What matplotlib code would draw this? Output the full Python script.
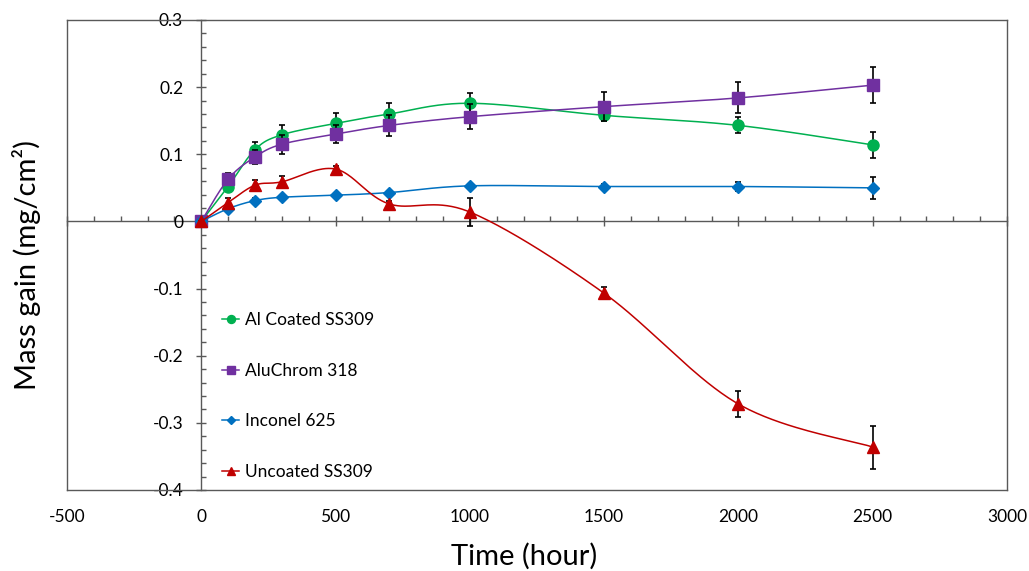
import numpy as np
import matplotlib
matplotlib.use("Agg")
import matplotlib.pyplot as plt
from matplotlib.lines import Line2D
from matplotlib.ticker import MultipleLocator, NullFormatter

plt.rcParams['font.family'] = ['Lato', 'DejaVu Sans']

# ---- data ----
time_h = [0, 100, 200, 300, 500, 700, 1000, 1500, 2000, 2500]
al_coated = [0, 0.052, 0.107, 0.129, 0.146, 0.160, 0.176, 0.158, 0.143, 0.114]
al_coated_err = [0, 0.005, 0.012, 0.014, 0.015, 0.016, 0.016, 0.008, 0.012, 0.019]
aluchrom = [0, 0.063, 0.096, 0.115, 0.130, 0.143, 0.156, 0.171, 0.184, 0.203]
aluchrom_err = [0, 0.009, 0.011, 0.014, 0.013, 0.016, 0.019, 0.022, 0.023, 0.027]
inconel = [0, 0.019, 0.031, 0.036, 0.039, 0.043, 0.053, 0.052, 0.052, 0.050]
inconel_err = [0, 0.003, 0.004, 0.004, 0.003, 0.003, 0.003, 0.003, 0.007, 0.016]
uncoated = [0, 0.028, 0.054, 0.059, 0.078, 0.026, 0.014, -0.107, -0.272, -0.336]
uncoated_err = [0, 0.007, 0.007, 0.008, 0.004, 0.004, 0.021, 0.009, 0.019, 0.032]

series_names = ["Al Coated SS309", "AluChrom 318", "Inconel 625", "Uncoated SS309"]
x_ticks = [-500, 0, 500, 1000, 1500, 2000, 2500, 3000]
y_ticks = [-0.4, -0.3, -0.2, -0.1, 0, 0.1, 0.2, 0.3]
y_tick_labels = ['-0.4', '-0.3', '-0.2', '-0.1', '0', '0.1', '0.2', '0.3']


def smooth(x, y, n=40):
    """Excel-like smoothed line: Catmull-Rom cubic Bezier through the points."""
    P = np.column_stack([x, y]).astype(float)
    out = [P[0]]
    t = np.linspace(0, 1, n)[1:, None]
    for i in range(len(P) - 1):
        p0 = P[i - 1] if i > 0 else P[i]
        p1, p2 = P[i], P[i + 1]
        p3 = P[i + 2] if i + 2 < len(P) else P[i + 1]
        b1 = p1 + (p2 - p0) / 6.0
        b2 = p2 - (p3 - p1) / 6.0
        seg = (1 - t) ** 3 * p1 + 3 * (1 - t) ** 2 * t * b1 + 3 * (1 - t) * t ** 2 * b2 + t ** 3 * p2
        out.extend(seg)
    out = np.array(out)
    return out[:, 0], out[:, 1]


fig = plt.figure(figsize=(10.29, 5.71), dpi=100)
ax = fig.add_axes([67 / 1029, 81 / 571, 940 / 1029, 470 / 571])

styles = [
    (al_coated, al_coated_err, '#00B050', 'o', 8.0),
    (aluchrom, aluchrom_err, '#7030A0', 's', 8.3),
    (inconel, inconel_err, '#0070C0', 'D', 6.2),
    (uncoated, uncoated_err, '#C00000', '^', 8.5),
]

handles = []
for k, (vals, errs, col, mk, ms) in enumerate(styles):
    sx, sy = smooth(time_h, vals)
    ax.plot(sx, sy, color=col, lw=1.1, zorder=2 + k * 0.1)
    ax.errorbar(time_h, vals, yerr=errs, fmt='none', ecolor='black',
                elinewidth=1.2, capsize=2.2, capthick=1.2, zorder=2.05 + k * 0.1)
    ax.plot(time_h, vals, linestyle='none', marker=mk, ms=ms, color=col,
            mec=col, zorder=2.08 + k * 0.1)
    handles.append(Line2D([], [], color=col, lw=1.1, marker=mk, ms=ms * 0.72,
                          mec=col))

ax.set_xlim(-500, 3000)
ax.set_ylim(-0.4, 0.3)

box_col = '#595959'
for s in ax.spines.values():
    s.set_color(box_col)
    s.set_linewidth(1.0)

# main axes: x labels at bottom only, no ticks; y nothing
ax.set_xticks(x_ticks)
ax.set_xticklabels([str(v) for v in x_ticks])
ax.tick_params(axis='x', length=0, pad=14, labelsize=12.5, colors='black')
ax.set_yticks([])

# zero axes with ticks (Excel style axes crossing at the origin)
secx = ax.secondary_xaxis(0.4 / 0.7)
secx.set_alignment('bottom')
secx.set_xticks(x_ticks)
secx.xaxis.set_minor_locator(MultipleLocator(100))
secx.xaxis.set_major_formatter(NullFormatter())
secx.tick_params(axis='x', which='major', direction='inout', length=7, width=1.0,
                 color=box_col, labelbottom=False, labeltop=False)
secx.tick_params(axis='x', which='minor', direction='in', length=3.6, width=1.0,
                 color=box_col)
for s in secx.spines.values():
    s.set_color(box_col)
    s.set_linewidth(1.0)

secy = ax.secondary_yaxis(500 / 3500)
secy.set_yticks(y_ticks)
secy.set_yticklabels(y_tick_labels)
secy.yaxis.set_minor_locator(MultipleLocator(0.02))
secy.tick_params(axis='y', which='major', direction='inout', length=7, width=1.0,
                 color=box_col, labelcolor='black', labelsize=12.5, pad=9.5)
secy.tick_params(axis='y', which='minor', direction='in', length=3.6, width=1.0,
                 color=box_col)
for s in secy.spines.values():
    s.set_color(box_col)
    s.set_linewidth(1.0)

fig.text(27 / 1029, 1 - 265 / 571, 'Mass gain (mg/cm²)', rotation=90,
         ha='center', va='center', fontsize=21)
fig.text(524 / 1029, 1 - 556 / 571, 'Time (hour)', ha='center', va='center',
         fontsize=21)

ax.legend(handles, series_names, loc='upper left',
          bbox_to_anchor=(222 / 1029, 1 - 312 / 571), bbox_transform=fig.transFigure,
          frameon=False, borderpad=0, borderaxespad=0, handlelength=1.0,
          handletextpad=0.35, labelspacing=2.0, fontsize=12.5)

fig.savefig('out.png', dpi=100)
